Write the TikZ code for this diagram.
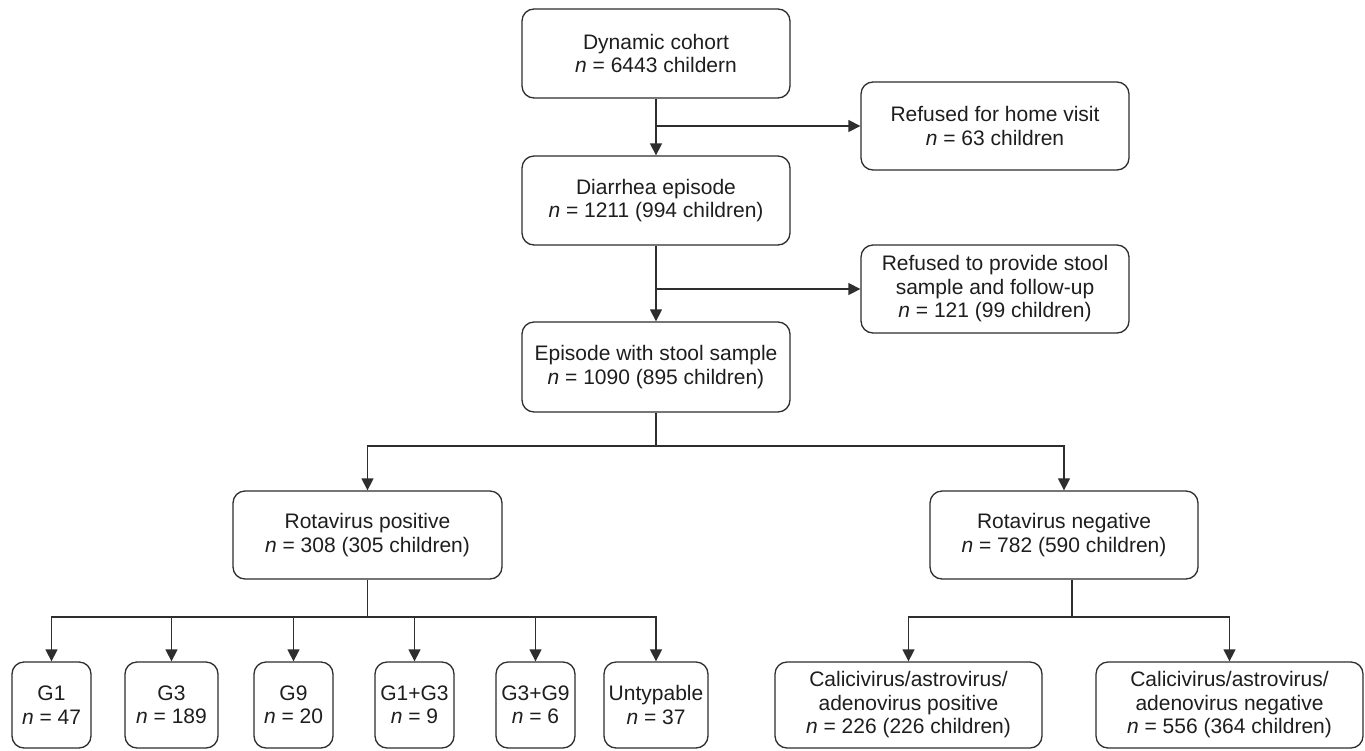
\documentclass[tikz,border=0pt]{standalone}
\usepackage{fontspec}
\setmainfont{Liberation Sans}
\usetikzlibrary{arrows.meta}
\definecolor{txt}{HTML}{1E1E1E}
\definecolor{ln}{HTML}{2E2E2E}
\begin{document}
\begin{tikzpicture}[x=1pt,y=-1pt,
  box/.style={draw=ln, line width=1.3pt, rounded corners=12pt, align=center, inner sep=0pt,
    text=txt, font=\fontsize{21}{23.5}\selectfont},
  arr/.style={draw=ln, line width=1.3pt, -{Triangle[length=12pt,width=12pt]}},
  con/.style={draw=ln, line width=1.3pt}]
\useasboundingbox (0,0) rectangle (1365,750);
\fill[white] (0,0) rectangle (1365,750);
\node[box, minimum width=268, minimum height=89] (dyn) at (656,53.5) {Dynamic cohort\\\textit{n} = 6443 childern};
\node[box, minimum width=268, minimum height=88] (ref1) at (995,126) {Refused for home visit\\\textit{n} = 63 children};
\node[box, minimum width=268, minimum height=89] (diar) at (656,200.5) {Diarrhea episode\\\textit{n} = 1211 (994 children)};
\node[box, minimum width=268, minimum height=88] (ref2) at (995,289) {Refused to provide stool\\sample and follow-up\\\textit{n} = 121 (99 children)};
\node[box, minimum width=268, minimum height=90] (epi) at (656,367) {Episode with stool sample\\\textit{n} = 1090 (895 children)};
\node[box, minimum width=269, minimum height=88] (rpos) at (367.5,535) {Rotavirus positive\\\textit{n} = 308 (305 children)};
\node[box, minimum width=268, minimum height=88] (rneg) at (1064,535) {Rotavirus negative\\\textit{n} = 782 (590 children)};
\node[box, minimum width=79, minimum height=86] (g1) at (51.5,705) {G1\\\textit{n} = 47};
\node[box, minimum width=93, minimum height=86] (g3) at (171.5,705) {G3\\\textit{n} = 189};
\node[box, minimum width=79, minimum height=86] (g9) at (293.5,705) {G9\\\textit{n} = 20};
\node[box, minimum width=79, minimum height=86] (g13) at (414.5,705) {G1+G3\\\textit{n} = 9};
\node[box, minimum width=79, minimum height=86] (g39) at (535.5,705) {G3+G9\\\textit{n} = 6};
\node[box, minimum width=104, minimum height=86] (unt) at (656,705) {Untypable\\\textit{n} = 37};
\node[box, minimum width=267, minimum height=86] (cpos) at (908.5,705) {Calicivirus/astrovirus/\\adenovirus positive\\\textit{n} = 226 (226 children)};
\node[box, minimum width=267, minimum height=86] (cneg) at (1229.5,705) {Calicivirus/astrovirus/\\adenovirus negative\\\textit{n} = 556 (364 children)};
% connectors
\draw[arr] (dyn) -- (diar);
\draw[arr] (dyn.south |- ref1.west) -- (ref1.west);
\draw[arr] (diar) -- (epi);
\draw[arr] (diar.south |- ref2.west) -- (ref2.west);
\coordinate (j1) at (656,446);
\draw[con] (epi.south) -- (j1);
\draw[arr] (j1) -| (rpos.north);
\draw[arr] (j1) -| (rneg.north);
\coordinate (j2) at (367.5,617);
\draw[con] (rpos.south) -- (j2);
\foreach \n in {g1,g3,g9,g13,g39,unt} {\draw[arr] (j2) -| (\n.north);}
\coordinate (j3) at (1072,617);
\draw[con] ([xshift=8pt]rneg.south) -- (j3);
\draw[arr] (j3) -| (cpos.north);
\draw[arr] (j3) -| (cneg.north);
\end{tikzpicture}
\end{document}
